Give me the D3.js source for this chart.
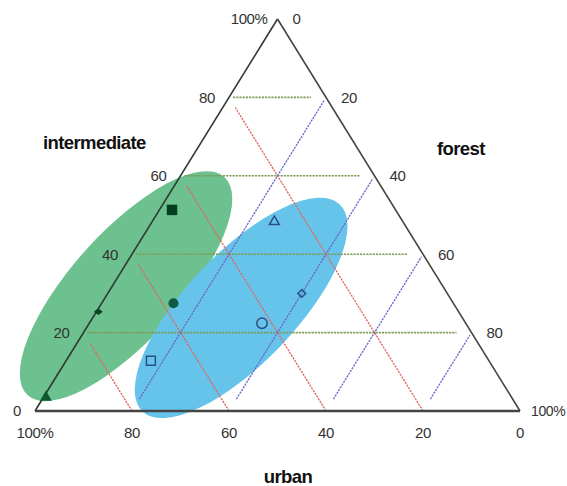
<!DOCTYPE html>
<html>
<head>
<meta charset="utf-8">
<script src="https://cdn.jsdelivr.net/npm/d3@7"></script>
<style>
  html, body { margin: 0; padding: 0; background: #ffffff; }
  svg { display: block; }
  text { font-family: "Liberation Sans", Arial, Helvetica, sans-serif; }
</style>
</head>
<body>
<svg id="chart" width="567" height="486"></svg>
<script>
// ---- data (ternary percentages: urban, intermediate, forest) ----
const tickValues = [0, 20, 40, 60, 80, 100];
const intermediateLabels = ["0", "20", "40", "60", "80", "100%"];
const forestLabels = ["0", "20", "40", "60", "80", "100%"];
const urbanLabels = ["100%", "80", "60", "40", "20", "0"];
const gridValues = [20, 40, 60, 80];

const pointNames = ["filledTriangle", "filledDiamond", "filledSquare", "filledCircle",
                    "openSquare", "openTriangle", "openDiamond", "openCircle"];
const pointUrban        = [96, 74, 46, 58, 70, 27, 30, 42];
const pointIntermediate = [3.5, 25.3, 51.3, 27.5, 12.8, 48.3, 30, 22.4];
const pointForest       = [0.5, 0.4, 2.6, 14.8, 17.5, 25.2, 40, 35.6];

// ellipses: major-axis end points (intermediate, forest) and semi-minor (in %)
const ellipseNames = ["intermediateGroup", "forestGroup"];
const ellipseEndA_I = [59.7, 52.7];
const ellipseEndA_F = [9.2, 36.5];
const ellipseEndB_I = [4.0, -0.1];
const ellipseEndB_F = [-3.5, 22.2];
const ellipseMinor  = [13.8, 14.0];

const axisTitles = ["intermediate", "forest", "urban"];

// ---- scales ----
const svg = d3.select("#chart");
const xScale = d3.scaleLinear().domain([0, 100]).range([35, 520]);   // forest + intermediate/2
const yScale = d3.scaleLinear().domain([0, 100]).range([411, 19]);   // intermediate

function proj(I, F) {
  return [xScale(F + I / 2), yScale(I)];
}
function shorten(p1, p2, g1, g2) {
  const dx = p2[0] - p1[0], dy = p2[1] - p1[1];
  const L = Math.hypot(dx, dy);
  const ux = dx / L, uy = dy / L;
  return [[p1[0] + ux * g1, p1[1] + uy * g1], [p2[0] - ux * g2, p2[1] - uy * g2]];
}

// ---- ellipses ----
const ellColors = ["#6cc18f", "#66c4ea"];
ellipseNames.forEach((n, i) => {
  const a = proj(ellipseEndA_I[i], ellipseEndA_F[i]);
  const b = proj(ellipseEndB_I[i], ellipseEndB_F[i]);
  const cx = (a[0] + b[0]) / 2, cy = (a[1] + b[1]) / 2;
  const rx = Math.hypot(a[0] - b[0], a[1] - b[1]) / 2;
  const ry = Math.abs(yScale(0) - yScale(ellipseMinor[i]));
  const ang = Math.atan2(a[1] - b[1], a[0] - b[0]) * 180 / Math.PI;
  svg.append("ellipse")
    .attr("cx", cx).attr("cy", cy).attr("rx", rx).attr("ry", ry)
    .attr("transform", `rotate(${ang},${cx},${cy})`)
    .attr("fill", ellColors[i]);
});

// ---- grid lines ----
const grid = svg.append("g");
// intermediate (horizontal, green dotted)
gridValues.forEach(v => {
  const p1 = proj(v, 0), p2 = proj(v, 100 - v);
  const s = shorten(p1, p2, 4, 15);
  grid.append("line").attr("x1", s[0][0]).attr("y1", s[0][1]).attr("x2", s[1][0]).attr("y2", s[1][1])
    .attr("stroke", "#7c9c58").attr("stroke-width", 1.6).attr("stroke-dasharray", "2.2,1");
});
// urban (parallel to right edge, red dashed): from bottom to left edge
gridValues.forEach(u => {
  const p1 = proj(0, 100 - u), p2 = proj(100 - u, 0);
  const s = shorten(p1, p2, 0, 12);
  grid.append("line").attr("x1", s[0][0]).attr("y1", s[0][1]).attr("x2", s[1][0]).attr("y2", s[1][1])
    .attr("stroke", "#e0665e").attr("stroke-width", 1.3).attr("stroke-dasharray", "2.2,1");
});
// forest (parallel to left edge, blue dashed): from bottom to right edge
gridValues.forEach(f => {
  const p1 = proj(0, f), p2 = proj(100 - f, f);
  const s = shorten(p1, p2, 14, 3);
  grid.append("line").attr("x1", s[0][0]).attr("y1", s[0][1]).attr("x2", s[1][0]).attr("y2", s[1][1])
    .attr("stroke", "#6a66c6").attr("stroke-width", 1.3).attr("stroke-dasharray", "2.2,1");
});

// ---- triangle ----
const A = proj(100, 0), BL = proj(0, 0), BR = proj(0, 100);
svg.append("line").attr("x1", BL[0]).attr("y1", BL[1]).attr("x2", A[0]).attr("y2", A[1])
  .attr("stroke", "#2f3a33").attr("stroke-width", 1.6);
svg.append("line").attr("x1", A[0]).attr("y1", A[1]).attr("x2", BR[0]).attr("y2", BR[1])
  .attr("stroke", "#444").attr("stroke-width", 1.6);
svg.append("line").attr("x1", BL[0]).attr("y1", BL[1]).attr("x2", BR[0]).attr("y2", BR[1])
  .attr("stroke", "#444").attr("stroke-width", 2.4);

// ---- points ----
const markerStyle = {
  filledTriangle: { type: d3.symbolTriangle, size: 60, fill: "#0d5a2c", stroke: "none" },
  filledDiamond:  { type: d3.symbolSquare,   size: 26, fill: "#0b4223", stroke: "none", rot: 45, sx: 1.25, sy: 0.9 },
  filledSquare:   { type: d3.symbolSquare,   size: 110, fill: "#063f20", stroke: "none" },
  filledCircle:   { type: d3.symbolCircle,   size: 80, fill: "#0e5a47", stroke: "none" },
  openSquare:     { type: d3.symbolSquare,   size: 80, fill: "none", stroke: "#2c4f86" },
  openTriangle:   { type: d3.symbolTriangle, size: 42, fill: "none", stroke: "#2c4f86" },
  openDiamond:    { type: d3.symbolSquare,   size: 30, fill: "none", stroke: "#2c4f86", rot: 45 },
  openCircle:     { type: d3.symbolCircle,   size: 85, fill: "none", stroke: "#2c4f86" }
};
pointNames.forEach((n, i) => {
  const p = proj(pointIntermediate[i], pointForest[i]);
  const st = markerStyle[n];
  svg.append("path")
    .attr("d", d3.symbol().type(st.type).size(st.size)())
    .attr("transform", `translate(${p[0]},${p[1]}) scale(${st.sx || 1},${st.sy || 1}) rotate(${st.rot || 0})`)
    .attr("fill", st.fill)
    .attr("stroke", st.stroke)
    .attr("stroke-width", 1.5);
});

// ---- tick labels ----
const lab = svg.append("g").attr("font-size", 15).attr("fill", "#333").attr("letter-spacing", "-0.4");
tickValues.forEach((v, i) => {
  // intermediate: left edge
  const p = proj(v, 0);
  lab.append("text").attr("x", p[0] - (v === 100 ? 10 : 14)).attr("y", p[1]).attr("dy", "0.36em")
    .attr("text-anchor", "end").text(intermediateLabels[i]);
  // forest: right edge
  const q = proj(100 - v, v);
  lab.append("text").attr("x", q[0] + (v === 100 ? 11 : 15)).attr("y", q[1]).attr("dy", "0.36em")
    .attr("text-anchor", "start").attr("font-size", v === 100 ? 14 : 15).text(forestLabels[i]);
  // urban: bottom
  const r = proj(0, v);
  lab.append("text").attr("x", r[0]).attr("y", r[1] + 22).attr("dy", "0.36em")
    .attr("text-anchor", "middle").text(urbanLabels[i]);
});

// ---- axis titles ----
const titles = svg.append("g").attr("font-size", 18.5).attr("font-weight", "bold").attr("fill", "#111")
  .attr("letter-spacing", "-0.6");
titles.append("text").attr("x", 43).attr("y", 149).text(axisTitles[0]);
titles.append("text").attr("x", 437).attr("y", 155).text(axisTitles[1]);
titles.append("text").attr("x", 288).attr("y", 483).attr("text-anchor", "middle").text(axisTitles[2]);
</script>
</body>
</html>
